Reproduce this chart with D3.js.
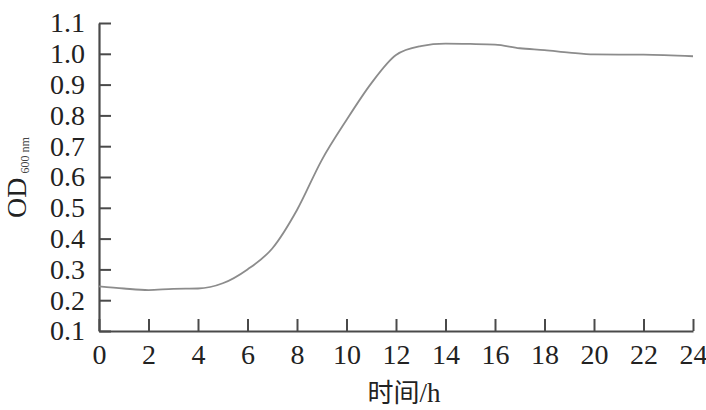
<!DOCTYPE html>
<html>
<head>
<meta charset="utf-8">
<script src="https://cdn.jsdelivr.net/npm/d3@7"></script>
<style>
  html, body { margin: 0; padding: 0; background: #fff; }
  svg { display: block; }
</style>
</head>
<body>
<svg id="chart" width="706" height="410"></svg>
<script>
// Data
const hours = [0, 1, 2, 3, 4, 5, 6, 7, 8, 9, 10, 11, 12, 13, 14, 15, 16, 17, 18, 19, 20, 22, 24];
const od600 = [0.245, 0.238, 0.233, 0.237, 0.238, 0.255, 0.300, 0.368, 0.493, 0.655, 0.785, 0.904, 0.996, 1.025, 1.033, 1.032, 1.030, 1.018, 1.012, 1.004, 0.998, 0.997, 0.992];
const xTicks = [0, 2, 4, 6, 8, 10, 12, 14, 16, 18, 20, 22, 24];
const yTicks = [0.1, 0.2, 0.3, 0.4, 0.5, 0.6, 0.7, 0.8, 0.9, 1.0, 1.1];
const xTitle = "时间/h";
const yTitleMain = "OD";
const yTitleSub = "600 nm";

const svg = d3.select("#chart");
const mLeft = 99, mRight = 693, mTop = 23, mBottom = 331;

const x = d3.scaleLinear().domain([0, 24]).range([mLeft, mRight]);
const y = d3.scaleLinear().domain([0.1, 1.1]).range([mBottom, mTop]);

const serif = "'Liberation Serif', 'Times New Roman', serif";
const axisColor = "#4a4a4a";

// X axis
const gx = svg.append("g")
  .attr("transform", `translate(0,${mBottom})`)
  .call(d3.axisBottom(x).tickValues(xTicks).tickFormat(d3.format("d"))
    .tickSize(-12).tickSizeOuter(0).tickPadding(13));
// Y axis
const gy = svg.append("g")
  .attr("transform", `translate(${mLeft},0)`)
  .call(d3.axisLeft(y).tickValues(yTicks).tickFormat(d3.format(".1f"))
    .tickSize(-12).tickSizeOuter(0).tickPadding(14));

[gx, gy].forEach(g => {
  g.select(".domain").attr("stroke", axisColor).attr("stroke-width", 2.2);
  g.selectAll(".tick line").attr("stroke", axisColor).attr("stroke-width", 2);
  g.selectAll(".tick text")
    .attr("fill", "#222")
    .style("font-family", serif)
    .style("font-size", "28px");
});

// Curve
const line = d3.line()
  .x((d, i) => x(hours[i]))
  .y(d => y(d))
  .curve(d3.curveMonotoneX);

svg.append("path")
  .datum(od600)
  .attr("fill", "none")
  .attr("stroke", "#8c8c8c")
  .attr("stroke-width", 1.8)
  .attr("d", line);

// X title
const xt = svg.append("text")
  .attr("x", 404)
  .attr("y", 402)
  .attr("text-anchor", "middle")
  .attr("fill", "#222")
  .style("font-size", "26px");
xt.append("tspan").style("font-family", "'Noto Sans CJK SC', sans-serif").text(xTitle.slice(0, 2));
xt.append("tspan").style("font-family", serif).style("font-size", "27px").text(xTitle.slice(2));

// Y title
const yt = svg.append("text")
  .attr("transform", "translate(26,218) rotate(-90)")
  .attr("text-anchor", "start")
  .attr("fill", "#222")
  .style("font-family", serif);
yt.append("tspan").style("font-size", "28px").text(yTitleMain);
yt.append("tspan").attr("dx", 4).attr("dy", 3).style("font-size", "12px").attr("fill", "#444").text(yTitleSub);
</script>
</body>
</html>
